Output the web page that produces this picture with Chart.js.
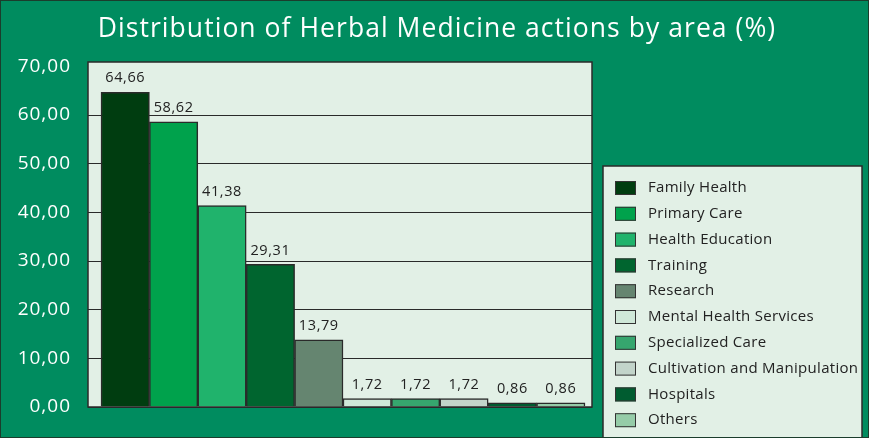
<!DOCTYPE html>
<html>
<head>
<meta charset="utf-8">
<script src="https://cdn.jsdelivr.net/npm/chart.js@4/dist/chart.umd.min.js"></script>
<style>
html,body{margin:0;padding:0;background:#008C5F;}
#wrap{width:869px;height:438px;position:relative;}
</style>
</head>
<body>
<div id="wrap"><canvas id="c" width="869" height="438"></canvas></div>
<script>
const titleText = 'Distribution of Herbal Medicine actions by area (%)';
const categories = ['Family Health','Primary Care','Health Education','Training','Research','Mental Health Services','Specialized Care','Cultivation and Manipulation','Hospitals','Others'];
const values = [64.66, 58.62, 41.38, 29.31, 13.79, 1.72, 1.72, 1.72, 0.86, 0.86];
const barColors = ['#003D10','#00A24C','#20B36C','#00652F','#658570','#CFE8D8','#36A66E','#C2D4CA','#005C30','#95CCA8'];
const yTicks = [0,10,20,30,40,50,60,70];

const fmt = v => v.toFixed(2).replace('.', ',');
const FONT = "'Open Sans', 'Noto Sans', sans-serif";

const bgPlugin = {
  id: 'bg',
  beforeDraw(chart) {
    const {ctx, chartArea: a} = chart;
    ctx.letterSpacing = '1px';
    ctx.save();
    ctx.fillStyle = '#008C5F';
    ctx.fillRect(0, 0, chart.width, chart.height);
    ctx.fillStyle = '#E2F0E6';
    ctx.fillRect(a.left, a.top, a.right - a.left, a.bottom - a.top);
    // title
    ctx.fillStyle = '#ffffff';
    ctx.font = "26.5px " + FONT;
    ctx.letterSpacing = '1.05px';
    ctx.textAlign = 'center';
    ctx.textBaseline = 'alphabetic';
    ctx.fillText(titleText, 437, 37);
    ctx.restore();
  },
  afterDatasetsDraw(chart) {
    const {ctx, chartArea: a} = chart;
    ctx.save();
    // plot frame
    ctx.strokeStyle = '#2a2a2a';
    ctx.lineWidth = 1.5;
    ctx.strokeRect(a.left, a.top, a.right - a.left, a.bottom - a.top);
    // value labels
    const meta = chart.getDatasetMeta(0);
    ctx.fillStyle = '#222';
    ctx.font = "14.5px " + FONT;
    ctx.letterSpacing = '0.6px';
    ctx.textAlign = 'center';
    ctx.textBaseline = 'middle';
    meta.data.forEach((el, i) => {
      ctx.fillText(fmt(values[i]), el.x, el.y - 14);
    });
    ctx.restore();
  },
  afterDraw(chart) {
    const ctx = chart.ctx;
    ctx.save();
    // legend box
    const lx = 603, ly = 166, lw = 259, lh = 272;
    ctx.fillStyle = '#E2F0E6';
    ctx.fillRect(lx, ly, lw, lh);
    ctx.strokeStyle = '#2a2a2a';
    ctx.lineWidth = 1.5;
    ctx.strokeRect(lx, ly, lw, lh);
    ctx.font = "15px " + FONT;
    ctx.letterSpacing = '0.3px';
    ctx.textAlign = 'left';
    ctx.textBaseline = 'middle';
    categories.forEach((c, i) => {
      const cy = 188 + i * 25.8;
      ctx.fillStyle = barColors[i];
      ctx.fillRect(615, cy - 7, 21, 14);
      ctx.strokeStyle = '#333';
      ctx.lineWidth = 1;
      ctx.strokeRect(615.5, cy - 6.5, 20, 13);
      ctx.fillStyle = '#222';
      ctx.fillText(c, 648, cy);
    });
    // outer frame
    ctx.strokeStyle = '#1b3d2c';
    ctx.lineWidth = 1;
    ctx.strokeRect(0.5, 0.5, chart.width - 1, chart.height - 1);
    ctx.restore();
  }
};

new Chart(document.getElementById('c'), {
  type: 'bar',
  data: {
    labels: categories.map((_, i) => i),
    datasets: [{
      label: 'Distribution',
      data: values,
      backgroundColor: barColors,
      borderColor: '#2a2a2a',
      borderWidth: 1.5,
      barPercentage: 1,
      categoryPercentage: 1
    }]
  },
  options: {
    responsive: false,
    animation: false,
    devicePixelRatio: 1,
    layout: {padding: {left: 0, right: 277, top: 62, bottom: 31}},
    plugins: {
      legend: {display: false},
      tooltip: {enabled: false},
      title: {display: false}
    },
    scales: {
      x: {
        type: 'linear',
        min: -0.769,
        max: 9.645,
        display: false,
        offset: false
      },
      y: {
        min: 0,
        max: 70.9,
        afterFit(s) { s.width = 88; },
        afterBuildTicks(s) { s.ticks = yTicks.map(v => ({value: v})); },
        ticks: {
          color: '#ffffff',
          font: {family: FONT, size: 19},
          padding: 17,
          callback: v => fmt(v)
        },
        grid: {
          drawTicks: false,
          color: ctx => ctx.tick && ctx.tick.value === 70 ? 'rgba(0,0,0,0)' : '#2a2a2a',
          lineWidth: 1
        },
        border: {display: false}
      }
    }
  },
  plugins: [bgPlugin]
});
</script>
</body>
</html>
